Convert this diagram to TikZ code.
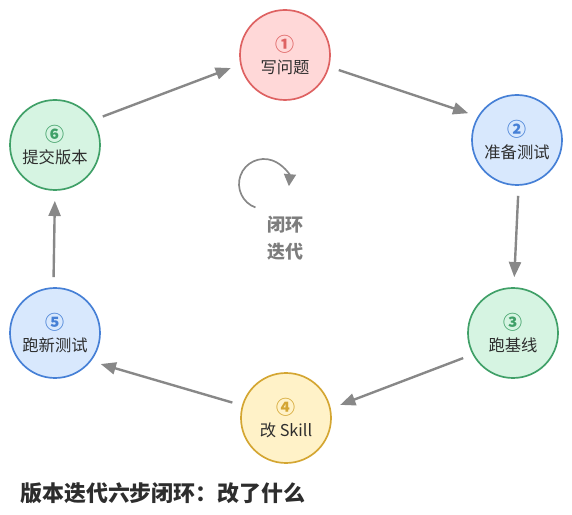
\documentclass[tikz,border=0pt]{standalone}
\usepackage{fontspec}
\setmainfont{Noto Sans CJK SC}
\usetikzlibrary{arrows.meta}
\definecolor{redline}{RGB}{222,98,98}
\definecolor{redfill}{RGB}{255,216,216}
\definecolor{blueline}{RGB}{70,128,214}
\definecolor{bluefill}{RGB}{216,232,253}
\definecolor{greenline}{RGB}{64,160,104}
\definecolor{greenfill}{RGB}{214,244,226}
\definecolor{yellowline}{RGB}{212,166,50}
\definecolor{yellowfill}{RGB}{255,242,200}
\definecolor{arrowgrey}{RGB}{136,136,136}
\definecolor{textgrey}{RGB}{125,125,125}
\definecolor{dark}{RGB}{45,45,45}
\tikzset{
    stage/.style 2 args={
        circle,
        minimum size=2.25cm,
        inner sep=0pt,
        fill=#1,
        draw=#2,
        line width=1.2pt,
        align=center,
        text=dark,
        font=\fontsize{11.6}{16}\selectfont
    },
    flow/.style={
        draw=arrowgrey,
        line width=1.7pt,
        shorten <=0.25cm,
        shorten >=0.25cm,
        -{Triangle[length=0.38cm,width=0.3cm]}
    }
}
\newcommand{\stepno}[2]{{\fontsize{13.5}{16}\selectfont\bfseries\textcolor{#1}{#2}}}

\begin{document}
\begin{tikzpicture}
    \useasboundingbox (0,0) rectangle (14.3,12.85);

    % six steps
    \node[stage={redfill}{redline}] (s1) at (7.125,11.475) {\stepno{redline}{①}\\写问题};
    \node[stage={bluefill}{blueline}] (s2) at (12.925,9.35) {\stepno{blueline}{②}\\准备测试};
    \node[stage={greenfill}{greenline}] (s3) at (12.825,4.525) {\stepno{greenline}{③}\\跑基线};
    \node[stage={yellowfill}{yellowline}] (s4) at (7.15,2.4) {\stepno{yellowline}{④}\\改 Skill};
    \node[stage={bluefill}{blueline}] (s5) at (1.375,4.525) {\stepno{blueline}{⑤}\\跑新测试};
    \node[stage={greenfill}{greenline}] (s6) at (1.375,9.225) {\stepno{greenline}{⑥}\\提交版本};

    % loop arrows
    \draw[flow] (s6.33) -- (s1.192);
    \draw[flow] (s1.-15) -- (s2.149);
    \draw[flow] (s2.-88) -- (s3.89);
    \draw[flow] (s3.208) -- (s4.12);
    \draw[flow] (s4.164) -- (s5.-38);
    \draw[flow] (s5.92) -- (s6.-90);

    % centre mark
    \coordinate (hub) at (6.6,8.25);
    \draw[arrowgrey, line width=1.2pt, -{Triangle[length=0.3cm,width=0.3cm]}]
        (hub) ++(250:0.625) arc[start angle=250, end angle=-5, radius=0.625];
    \node[text=textgrey, font=\fontsize{12.8}{19}\selectfont\bfseries, align=center] (hubtext) at (7.125,6.9) {闭环\\迭代};

    % title
    \node[anchor=west, text=dark, font=\fontsize{15.6}{18}\selectfont\bfseries, inner sep=0pt] (title) at (0.5,0.525) {版本迭代六步闭环：改了什么};
\end{tikzpicture}
\end{document}
